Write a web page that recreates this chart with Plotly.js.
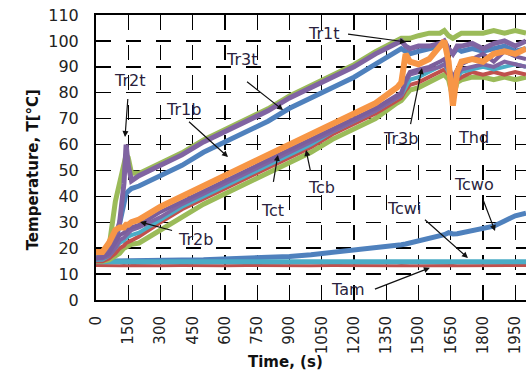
<!DOCTYPE html>
<html><head><meta charset="utf-8">
<script src="https://cdn.plot.ly/plotly-3.0.1.min.js"></script>
<style>html,body{margin:0;padding:0;background:#fff;}#chart{width:526px;height:387px;}</style>
</head><body><div id="chart"></div>
<script>
// time points (s)
var time = [0,30,60,90,110,130,140,150,165,200,300,400,500,600,700,800,900,1000,1100,1200,1300,1400,1420,1440,1460,1500,1550,1600,1620,1640,1660,1680,1700,1750,1800,1850,1900,1950,2000];
// series (°C)
var Tr1t = [16,18,20,38,45,52,56,55,49,48.8,52.8,56.8,61.8,65.8,69.8,73.8,78.8,82.8,86.8,90.8,95.8,99.8,101,101,101,102,103,103,104,102,101,102,103,103,103,104,103,104,103];
var Tr3t = [16,17,18,22,30,38,41,42,43,44,48,52,57,61,65,69,74,78,82,86,91,96,97,96,95,96,97,98,99,96,95,97,96,97,96,97,98,96,97];
var Tr2t = [16,17,19,24,30,45,60,52,46,48,52,56,61,65,69,73,78,82,86,90,95,99,100,98,97,98,98,99,100,97,95,98,98,99,97,99,100,98,100];
var Tcb  = [15,15,15.5,17,18,20,20.5,21,21.5,22,27,32,37,41,45,49,53,57,62,66,70,76,77,79,81,82,84,86,87,85,78,84,85,86,86,85,86,85,86];
var Tct  = [15,15,16,18,20,21,22,22.5,23,24.5,30,35,39,43,47,51,55,59,64,68,72,77,78,81,83,84,86,88,89,87,82,85,86,88,87,88,87,88,87];
var Tr1b = [15.5,15.5,17,20,22,23,24,24.5,25,26,31,36,40,44,48,52,56,60,65,69,73,78,79,82,85,86,88,90,91,88,83,86,88,89,90,89,90,91,90];
var Tr3b = [16,16,17,20,23,24,25,26,27,28,32,37,41,45,49,53,57,61,65,69,73,78,79,84,87,88,89,90,91,89,84,87,89,90,91,90,92,91,90];
var Tr2b = [16,16.5,18,22,25,26,27,27.5,28,29,34,38,42,46,50,54,58,62,66,70,74,79,80,85,88,89,90,92,93,90,86,89,91,93,95,92,96,94,93];
var Thd  = [18.5,18.5,22,27,28,28,29,29,30,31,36,40,44,48,52,56,60,63.5,68,72,76,82,84,95,92,91,93,98,100,92,75,88,92,93,92,95,96,95,97];
var Tcwo = [15,15,15,15,15,15,15,15,15,15,15.2,15.4,15.5,15.8,16,16.3,16.8,17.5,18.3,19.2,20,21,21.3,21.6,22,22.5,23.5,24.5,25.2,26,25.5,25.6,26,27,27.5,28.5,30.5,32.5,33.5];
var Tcwi = [14.8,14.8,14.8,14.8,14.8,14.8,14.8,14.8,14.8,14.8,14.8,14.9,14.8,14.8,14.9,14.8,14.8,14.8,14.9,14.8,14.8,14.8,14.8,14.8,14.9,14.8,14.8,14.8,14.8,14.9,14.8,14.8,14.8,14.8,14.8,14.9,14.8,14.8,14.8];
var Tam  = [13.3,13.2,13.3,13.2,13.2,13.3,13.2,13.2,13.3,13.2,13.2,13.3,13.2,13.2,13.3,13.2,13.2,13.2,13.3,13.2,13.2,13.2,13.3,13.2,13.2,13.2,13.3,13.2,13.2,13.2,13.3,13.2,13.2,13.2,13.3,13.2,13.2,13.2,13.3];

var xTicks = [0,150,300,450,600,750,900,1050,1200,1350,1500,1650,1800,1950];
var yTicks = [0,10,20,30,40,50,60,70,80,90,100,110];

// labels: text position (s, °C)
var labelText = ['Tr2t','Tr3t','Tr1b','Tr1t','Tr2b','Tct','Tcb','Tr3b','Thd','Tcwo','Tcwi','Tam'];
var labelX    = [158, 679, 409, 1060, 465, 819, 1051, 1414, 1758, 1758, 1433, 1172];
var labelY    = [84.9, 93.0, 73.7, 102.7, 23.2, 34.7, 43.6, 62.5, 62.9, 44.4, 35.5, 3.9];
// arrow heads (s, °C) and tail offsets (px)
var arrowX  = [135, 870, 614, 1442, 205, 846, 977, 1516, 1674, 1856, 1730, 1553];
var arrowY  = [62.9, 73.3, 55.2, 99.6, 30.1, 56.0, 57.9, 89.5, 75.6, 26.6, 16.2, 12.4];
var arrowAX = [3, -38, -41, -60, 34, -5, 5, -12, 14, -13, -45, -57];
var arrowAY = [-41, -30, -37, -8, 9, 30, 24, 59, 13, -34, -40, 22];

function tr(name, y, color, w){
  return {x: time, y: y, name: name, type: 'scatter', mode: 'lines',
          line: {color: color, width: w}, hoverinfo: 'skip'};
}
var data = [
  tr('Tcwo', Tcwo, '#4F81BD', 5),
  tr('Tam', Tam, '#C0504D', 3),
  tr('Tcwi', Tcwi, '#4BACC6', 5),
  tr('Tr1t', Tr1t, '#9BBB59', 5),
  tr('Tr3t', Tr3t, '#4F81BD', 5),
  tr('Tr2t', Tr2t, '#8064A2', 5),
  tr('Tcb', Tcb, '#9BBB59', 5),
  tr('Tct', Tct, '#C0504D', 4),
  tr('Tr1b', Tr1b, '#4BACC6', 4),
  tr('Tr3b', Tr3b, '#8064A2', 4),
  tr('Tr2b', Tr2b, '#7A5E9C', 4),
  tr('Thd', Thd, '#F79646', 6)
];

var ann = [];
for (var i = 0; i < labelText.length; i++) {
  ann.push({x: labelX[i], y: labelY[i], xref: 'x', yref: 'y', text: labelText[i],
            showarrow: false, font: {family: 'DejaVu Sans', size: 16, color: '#2a1f3d'}});
  ann.push({x: arrowX[i], y: arrowY[i], xref: 'x', yref: 'y', text: ' ',
            showarrow: true, ax: arrowAX[i], ay: arrowAY[i], arrowhead: 2, arrowsize: 1,
            arrowwidth: 1.2, arrowcolor: '#111', font: {size: 2}});
}
ann.push({x: 0.44, y: -0.256, xref: 'paper', yref: 'paper', showarrow: false,
          text: '<b>Time, (s)</b>', font: {family: 'DejaVu Sans', size: 15, color: '#111'}});
ann.push({x: -0.172, y: 0.455, xref: 'paper', yref: 'paper', showarrow: false, textangle: -90,
          text: '<b>Temperature, T[°C]</b>', font: {family: 'DejaVu Sans', size: 15, color: '#111'}});

var layout = {
  width: 526, height: 387,
  margin: {l: 96, r: 0, t: 15, b: 87},
  paper_bgcolor: '#fff', plot_bgcolor: '#fff',
  showlegend: false,
  xaxis: {range: [0, 2000], tickvals: xTicks, ticktext: xTicks.map(String), tickangle: -90,
          showgrid: true, gridcolor: '#000000', griddash: 'longdash', gridwidth: 1.4,
          zeroline: false, showline: true, linecolor: '#000', linewidth: 2, mirror: true,
          ticks: '', ticklabelstandoff: 8,
          tickfont: {family: 'DejaVu Sans', size: 15, color: '#222'}},
  yaxis: {range: [0, 110], tickvals: yTicks, ticktext: yTicks.map(String),
          showgrid: true, gridcolor: '#000000', griddash: 'longdash', gridwidth: 1.4,
          zeroline: false, showline: true, linecolor: '#000', linewidth: 2, mirror: false,
          ticks: '', ticklabelstandoff: 12,
          tickfont: {family: 'DejaVu Sans', size: 16, color: '#222'}},
  annotations: ann
};
Plotly.newPlot('chart', data, layout, {staticPlot: true, displayModeBar: false});
</script></body></html>
